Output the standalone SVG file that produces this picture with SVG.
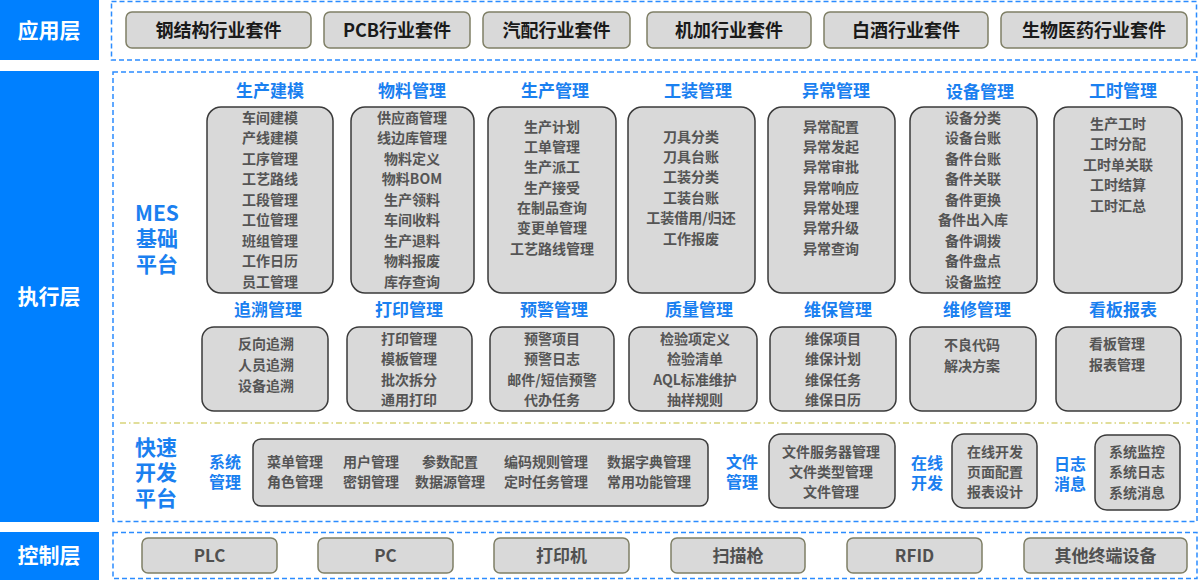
<svg xmlns="http://www.w3.org/2000/svg" width="1200" height="580" viewBox="0 0 1200 580">
<style>
text{font-family:"Noto Sans CJK SC","Noto Sans",sans-serif;text-anchor:middle;dominant-baseline:central;transform:translateY(-1.5px)}
.layer{fill:#0080ff}
.layerT{fill:#fff;font-size:21px;font-weight:700}
.dash{fill:none;stroke:#2b8cff;stroke-width:1.5;stroke-dasharray:5 3}
.ydash{fill:none;stroke:#d8d47a;stroke-width:1.3;stroke-dasharray:6 3 1.5 3}
.pill{fill:#d9d9d9;stroke:#7f7f66;stroke-width:1.5}
.pillT{fill:#1a1a1a;font-size:18px;font-weight:700}
.ctlT{fill:#505050;font-size:17px;font-weight:700}
.mod{fill:#d9d9d9;stroke:#3a3a3a;stroke-width:1.5}
.title{fill:#1a80f0;font-size:17px;font-weight:700}
.big{fill:#1a80f0;font-size:21px;font-weight:700}
.sub{fill:#1a80f0;font-size:16px;font-weight:700}
.item{fill:#555;font-size:14px;font-weight:700}
</style>

<!-- Layer labels -->
<g id="layer-app"><rect class="layer" x="0" y="0" width="99" height="60"/><text class="layerT" x="49" y="30">应用层</text></g>
<g id="layer-exec"><rect class="layer" x="0" y="71" width="99" height="451"/><text class="layerT" x="49" y="296">执行层</text></g>
<g id="layer-ctl"><rect class="layer" x="0" y="532" width="99" height="48"/><text class="layerT" x="49" y="555">控制层</text></g>

<!-- Containers -->
<g id="containers">
<rect class="dash" x="111.5" y="1.5" width="1085" height="58.5"/>
<rect class="dash" x="113" y="72" width="1084" height="449.5"/>
<rect class="dash" x="113" y="532.5" width="1084" height="46"/>
<line class="ydash" x1="120" y1="423" x2="1190" y2="423"/>
</g>

<!-- Application layer -->
<g id="app-1"><rect class="pill" x="126" y="12" width="185" height="36" rx="6"/><text class="pillT" x="218.5" y="30">钢结构行业套件</text></g>
<g id="app-2"><rect class="pill" x="324" y="12" width="146" height="36" rx="6"/><text class="pillT" x="397" y="30">PCB行业套件</text></g>
<g id="app-3"><rect class="pill" x="483" y="12" width="147" height="36" rx="6"/><text class="pillT" x="556.5" y="30">汽配行业套件</text></g>
<g id="app-4"><rect class="pill" x="647" y="12" width="164" height="36" rx="6"/><text class="pillT" x="729" y="30">机加行业套件</text></g>
<g id="app-5"><rect class="pill" x="824" y="12" width="164" height="36" rx="6"/><text class="pillT" x="906" y="30">白酒行业套件</text></g>
<g id="app-6"><rect class="pill" x="1001" y="12" width="186" height="36" rx="6"/><text class="pillT" x="1094" y="30">生物医药行业套件</text></g>

<!-- MES base platform -->
<g id="mes-label"><text class="big" x="157" y="213">MES</text><text class="big" x="157" y="238">基础</text><text class="big" x="157" y="264">平台</text></g>

<g id="m-jianmo"><text class="title" x="270" y="91">生产建模</text><rect class="mod" x="207" y="107" width="126" height="186" rx="14"/>
<text class="item" x="270" y="118">车间建模</text><text class="item" x="270" y="138.5">产线建模</text><text class="item" x="270" y="159">工序管理</text><text class="item" x="270" y="179.5">工艺路线</text><text class="item" x="270" y="200">工段管理</text><text class="item" x="270" y="220.5">工位管理</text><text class="item" x="270" y="241">班组管理</text><text class="item" x="270" y="261.5">工作日历</text><text class="item" x="270" y="282">员工管理</text></g>

<g id="m-wuliao"><text class="title" x="412" y="91">物料管理</text><rect class="mod" x="351" y="107" width="123" height="186" rx="14"/>
<text class="item" x="412" y="118">供应商管理</text><text class="item" x="412" y="138.5">线边库管理</text><text class="item" x="412" y="159">物料定义</text><text class="item" x="412" y="179.5">物料BOM</text><text class="item" x="412" y="200">生产领料</text><text class="item" x="412" y="220.5">车间收料</text><text class="item" x="412" y="241">生产退料</text><text class="item" x="412" y="261.5">物料报废</text><text class="item" x="412" y="282">库存查询</text></g>

<g id="m-shengchan"><text class="title" x="555" y="91">生产管理</text><rect class="mod" x="488" y="107" width="128" height="186" rx="14"/>
<text class="item" x="552" y="127">生产计划</text><text class="item" x="552" y="147.3">工单管理</text><text class="item" x="552" y="167.6">生产派工</text><text class="item" x="552" y="188">生产接受</text><text class="item" x="552" y="208.3">在制品查询</text><text class="item" x="552" y="228.6">变更单管理</text><text class="item" x="552" y="249">工艺路线管理</text></g>

<g id="m-gongzhuang"><text class="title" x="698" y="91">工装管理</text><rect class="mod" x="628" y="107" width="127" height="186" rx="14"/>
<text class="item" x="691" y="137">刀具分类</text><text class="item" x="691" y="157.4">刀具台账</text><text class="item" x="691" y="177.8">工装分类</text><text class="item" x="691" y="198.2">工装台账</text><text class="item" x="691" y="218.6">工装借用/归还</text><text class="item" x="691" y="239">工作报废</text></g>

<g id="m-yichang"><text class="title" x="836" y="91">异常管理</text><rect class="mod" x="768" y="107" width="127" height="186" rx="14"/>
<text class="item" x="831" y="127">异常配置</text><text class="item" x="831" y="147.3">异常发起</text><text class="item" x="831" y="167.6">异常审批</text><text class="item" x="831" y="188">异常响应</text><text class="item" x="831" y="208.3">异常处理</text><text class="item" x="831" y="228.6">异常升级</text><text class="item" x="831" y="249">异常查询</text></g>

<g id="m-shebei"><text class="title" x="980" y="92">设备管理</text><rect class="mod" x="910" y="107" width="127" height="186" rx="14"/>
<text class="item" x="973" y="118">设备分类</text><text class="item" x="973" y="138.5">设备台账</text><text class="item" x="973" y="159">备件台账</text><text class="item" x="973" y="179.5">备件关联</text><text class="item" x="973" y="200">备件更换</text><text class="item" x="973" y="220.5">备件出入库</text><text class="item" x="973" y="241">备件调拨</text><text class="item" x="973" y="261.5">备件盘点</text><text class="item" x="973" y="282">设备监控</text></g>

<g id="m-gongshi"><text class="title" x="1123" y="91">工时管理</text><rect class="mod" x="1054" y="107" width="128" height="186" rx="14"/>
<text class="item" x="1118" y="124">生产工时</text><text class="item" x="1118" y="144.5">工时分配</text><text class="item" x="1118" y="165">工时单关联</text><text class="item" x="1118" y="185.5">工时结算</text><text class="item" x="1118" y="206">工时汇总</text></g>

<!-- Row 2 -->
<g id="m-zhuisu"><text class="title" x="268" y="310">追溯管理</text><rect class="mod" x="202" y="327" width="126" height="84" rx="12"/>
<text class="item" x="266" y="344">反向追溯</text><text class="item" x="266" y="365">人员追溯</text><text class="item" x="266" y="386">设备追溯</text></g>

<g id="m-dayin"><text class="title" x="409" y="310">打印管理</text><rect class="mod" x="347" y="327" width="125" height="84" rx="12"/>
<text class="item" x="409" y="339">打印管理</text><text class="item" x="409" y="359.5">模板管理</text><text class="item" x="409" y="380">批次拆分</text><text class="item" x="409" y="400">通用打印</text></g>

<g id="m-yujing"><text class="title" x="554" y="310">预警管理</text><rect class="mod" x="490" y="327" width="124" height="84" rx="12"/>
<text class="item" x="552" y="339">预警项目</text><text class="item" x="552" y="359.5">预警日志</text><text class="item" x="552" y="380">邮件/短信预警</text><text class="item" x="552" y="400">代办任务</text></g>

<g id="m-zhiliang"><text class="title" x="699" y="310">质量管理</text><rect class="mod" x="629" y="327" width="128" height="84" rx="12"/>
<text class="item" x="695" y="339">检验项定义</text><text class="item" x="695" y="359.5">检验清单</text><text class="item" x="695" y="380">AQL标准维护</text><text class="item" x="695" y="400">抽样规则</text></g>

<g id="m-weibao"><text class="title" x="838" y="310">维保管理</text><rect class="mod" x="770" y="327" width="126" height="84" rx="12"/>
<text class="item" x="833" y="339">维保项目</text><text class="item" x="833" y="359.5">维保计划</text><text class="item" x="833" y="380">维保任务</text><text class="item" x="833" y="400">维保日历</text></g>

<g id="m-weixiu"><text class="title" x="977" y="310">维修管理</text><rect class="mod" x="910" y="327" width="126" height="84" rx="12"/>
<text class="item" x="972" y="345">不良代码</text><text class="item" x="972" y="366">解决方案</text></g>

<g id="m-kanban"><text class="title" x="1123" y="310">看板报表</text><rect class="mod" x="1056" y="327" width="125" height="84" rx="12"/>
<text class="item" x="1117" y="344">看板管理</text><text class="item" x="1117" y="365">报表管理</text></g>

<!-- Rapid development platform -->
<g id="rapid-label"><text class="big" x="156" y="447">快速</text><text class="big" x="156" y="472">开发</text><text class="big" x="156" y="498">平台</text></g>

<g id="sys"><text class="sub" x="225" y="462">系统</text><text class="sub" x="225" y="482">管理</text>
<rect class="mod" x="253" y="439" width="455" height="67" rx="8"/>
<text class="item" x="295" y="462">菜单管理</text><text class="item" x="295" y="482">角色管理</text>
<text class="item" x="371" y="462">用户管理</text><text class="item" x="371" y="482">密钥管理</text>
<text class="item" x="450" y="462">参数配置</text><text class="item" x="450" y="482">数据源管理</text>
<text class="item" x="546" y="462">编码规则管理</text><text class="item" x="546" y="482">定时任务管理</text>
<text class="item" x="649" y="462">数据字典管理</text><text class="item" x="649" y="482">常用功能管理</text></g>

<g id="file"><text class="sub" x="742" y="462">文件</text><text class="sub" x="742" y="482">管理</text>
<rect class="mod" x="769" y="434" width="126" height="74" rx="12"/>
<text class="item" x="831" y="452">文件服务器管理</text><text class="item" x="831" y="472">文件类型管理</text><text class="item" x="831" y="492">文件管理</text></g>

<g id="online"><text class="sub" x="927" y="463">在线</text><text class="sub" x="927" y="483">开发</text>
<rect class="mod" x="952" y="434" width="85" height="74" rx="12"/>
<text class="item" x="995" y="452">在线开发</text><text class="item" x="995" y="472">页面配置</text><text class="item" x="995" y="492">报表设计</text></g>

<g id="log"><text class="sub" x="1070" y="464">日志</text><text class="sub" x="1070" y="484">消息</text>
<rect class="mod" x="1095" y="435" width="85" height="75" rx="12"/>
<text class="item" x="1137" y="452">系统监控</text><text class="item" x="1137" y="472">系统日志</text><text class="item" x="1137" y="493">系统消息</text></g>

<!-- Control layer -->
<g id="ctl-1"><rect class="pill" x="142" y="538" width="135" height="35" rx="6"/><text class="ctlT" x="209.5" y="555.5">PLC</text></g>
<g id="ctl-2"><rect class="pill" x="318" y="538" width="135" height="35" rx="6"/><text class="ctlT" x="385.5" y="555.5">PC</text></g>
<g id="ctl-3"><rect class="pill" x="494" y="538" width="135" height="35" rx="6"/><text class="ctlT" x="561.5" y="555.5">打印机</text></g>
<g id="ctl-4"><rect class="pill" x="671" y="538" width="134" height="35" rx="6"/><text class="ctlT" x="738" y="555.5">扫描枪</text></g>
<g id="ctl-5"><rect class="pill" x="847" y="538" width="135" height="35" rx="6"/><text class="ctlT" x="914.5" y="555.5">RFID</text></g>
<g id="ctl-6"><rect class="pill" x="1024" y="538" width="163" height="35" rx="6"/><text class="ctlT" x="1105.5" y="555.5">其他终端设备</text></g>

<g id="connectors"></g>
</svg>
